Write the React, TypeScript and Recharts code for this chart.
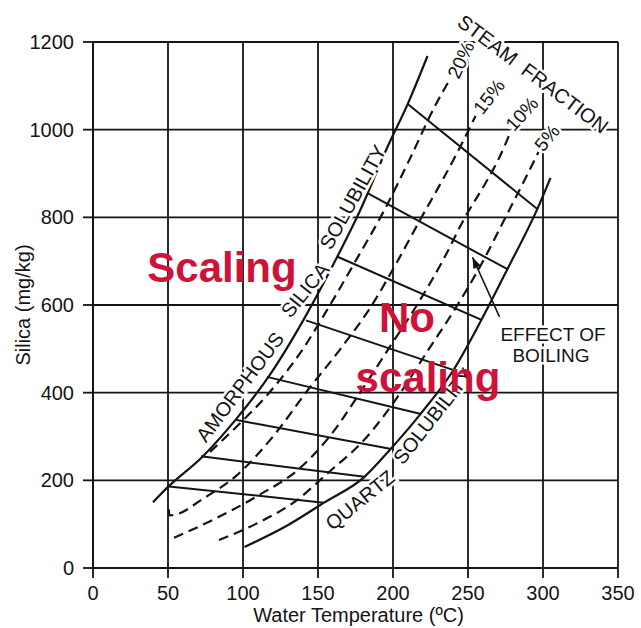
import { LineChart, Line, XAxis, YAxis, CartesianGrid, ReferenceDot } from "recharts";

// Silica solubility vs. water temperature: amorphous and quartz solubility,
// steam-fraction contours and the "effect of boiling" paths between them.
type Pt = [number, number]; // [°C, mg/kg]

const tempTicks = [0, 50, 100, 150, 200, 250, 300, 350];
const silicaTicks = [0, 200, 400, 600, 800, 1000, 1200];

const amorphous: Pt[] = [
  [40, 150], [50, 185], [73, 254], [95, 338], [118, 441], [141, 570],
  [163, 711], [178, 815], [196, 958], [210, 1060], [223, 1168],
];
const steam20: Pt[] = [
  [78, 265], [95, 320], [118, 402], [140, 500], [158, 600], [175, 700],
  [194, 815], [212, 939], [228, 1054], [238, 1115],
];
const steam15: Pt[] = [
  [50.5, 134], [51, 120], [57, 124], [72, 155], [96, 212], [120, 300],
  [143, 405], [165, 500], [186, 600], [203, 700], [219, 800], [233, 885],
  [245, 962], [255, 1031],
];
const steam10: Pt[] = [
  [54, 69], [80, 110], [110, 165], [138, 228], [160, 310], [178, 400],
  [197, 500], [216, 600], [233, 700], [248, 800], [262, 880], [270, 930],
  [279, 1000],
];
const steam5: Pt[] = [
  [84, 64], [110, 103], [136, 155], [156, 215], [181, 293], [203, 390],
  [224, 500], [243, 600], [260, 700], [275, 800], [288, 887], [297, 949],
];
const quartz: Pt[] = [
  [101, 48], [128, 94], [154, 149], [181, 208], [198, 270], [218, 350],
  [240, 450], [258, 560], [276, 680], [297, 825], [305, 890],
];

// boiling paths: from amorphous curve down to quartz curve
const boilingPaths: Pt[][] = [
  [[50.6, 186], [154, 149]],
  [[72, 255], [181, 208]],
  [[95, 338], [198, 272]],
  [[116, 436], [218, 352]],
  [[142, 565], [240, 452]],
  [[163, 710], [259, 566]],
  [[183, 855], [276.6, 681]],
  [[210, 1058], [296.6, 818]],
];
const boilingArrow: Pt[] = [[271, 573], [253, 709]];

const FONT = "'Liberation Sans', Arial, Helvetica, sans-serif";
const INK = "#141414";
const RED = "#cf1238";

// annotations placed in data units
const notes = [
  { text: "AMORPHOUS", t: 98, s: 413, angle: -53, size: 20 },
  { text: "SILICA", t: 141.3, s: 634, angle: -51, size: 20 },
  { text: "SOLUBILITY", t: 173.3, s: 846, angle: -61, size: 20 },
  { text: "QUARTZ", t: 178, s: 155, angle: -39, size: 20 },
  { text: "SOLUBILITY", t: 226.7, s: 347, angle: -52, size: 20 },
  { text: "STEAM  FRACTION", t: 293.3, s: 1127, angle: 37, size: 20 },
  { text: "20%", t: 245.3, s: 1159, angle: -65, size: 19 },
  { text: "15%", t: 264, s: 1075, angle: -52, size: 19 },
  { text: "10%", t: 286, s: 1036, angle: -48, size: 19 },
  { text: "5%", t: 302.7, s: 981, angle: -50, size: 19 },
  { text: "EFFECT OF", t: 306.7, s: 533, angle: 0, size: 19 },
  { text: "BOILING", t: 305.3, s: 485, angle: 0, size: 19 },
];
const zoneNotes = [
  { text: "Scaling", t: 86, s: 685 },
  { text: "No", t: 209.3, s: 571 },
  { text: "scaling", t: 223.3, s: 434 },
];

const rows = (pts: Pt[]) => pts.map(([t, s]) => ({ t, s }));

function textAt(text: string, angle: number, size: number, bold: boolean, fill: string, halo: boolean) {
  return (p: any) => {
    const vb = p.viewBox || { x: 0, y: 0, width: 0, height: 0 };
    const x = vb.x + (vb.width || 0) / 2;
    const y = vb.y + (vb.height || 0) / 2;
    return (
      <text
        x={x}
        y={y}
        transform={angle ? `rotate(${angle} ${x} ${y})` : undefined}
        textAnchor="middle"
        dominantBaseline="central"
        fontFamily={FONT}
        fontSize={size}
        fontWeight={bold ? 700 : 400}
        fill={fill}
        stroke={halo ? "#fff" : "none"}
        strokeWidth={halo ? 5 : 0}
        paintOrder="stroke"
        style={{ whiteSpace: "pre" }}
      >
        {text}
      </text>
    );
  };
}

function ArrowHead(p: any) {
  if (p.index !== 1) return <g key={`ah-${p.index}`} />;
  let ang = Math.atan2(-60, -27);
  if (p.points && p.points.length > 1) {
    const a = p.points[0];
    const b = p.points[1];
    ang = Math.atan2(b.y - a.y, b.x - a.x);
  }
  const L = 11;
  const W = 4;
  const bx = p.cx - L * Math.cos(ang);
  const by = p.cy - L * Math.sin(ang);
  const pts = `${p.cx},${p.cy} ${bx - W * Math.sin(ang)},${by + W * Math.cos(ang)} ${bx + W * Math.sin(ang)},${by - W * Math.cos(ang)}`;
  return <polygon key={`ah-${p.index}`} points={pts} fill={INK} />;
}

const yTitle = (p: any) => {
  const vb = p.viewBox;
  const x = vb.x - 10;
  const y = vb.y + vb.height / 2;
  return (
    <text x={x} y={y} transform={`rotate(-90 ${x} ${y})`} textAnchor="middle" dominantBaseline="central"
      fontFamily={FONT} fontSize={20} fill={INK}>
      Silica (mg/kg)
    </text>
  );
};

const xTitle = (p: any) => {
  const vb = p.viewBox;
  return (
    <text x={vb.x + vb.width / 2 + 3} y={vb.y + 47} textAnchor="middle" dominantBaseline="central"
      fontFamily={FONT} fontSize={20} fill={INK}>
      Water Temperature (ºC)
    </text>
  );
};

export default function App() {
  const solid = { type: "monotone" as const, dataKey: "s", stroke: INK, strokeWidth: 2.2, dot: false, activeDot: false, isAnimationActive: false };
  const dashed = { ...solid, strokeDasharray: "10 6" };
  return (
    <div style={{ position: "absolute", left: 0, top: 0, width: 641, height: 628, background: "#fff" }}>
      <LineChart width={641} height={628} margin={{ top: 42, right: 23, left: 33, bottom: 12 }}>
        <CartesianGrid stroke={INK} strokeWidth={1.8} horizontalValues={silicaTicks} verticalValues={tempTicks} />
        <XAxis
          type="number"
          dataKey="t"
          domain={[0, 350]}
          ticks={tempTicks}
          interval={0}
          allowDataOverflow
          height={48}
          tickSize={10}
          tickMargin={8}
          stroke={INK}
          strokeWidth={1.8}
          tick={{ fill: INK, fontSize: 20, fontFamily: FONT }}
          label={{ content: xTitle }}
        />
        <YAxis
          type="number"
          domain={[0, 1200]}
          ticks={silicaTicks}
          interval={0}
          allowDataOverflow
          width={60}
          tickSize={10}
          tickMargin={9}
          stroke={INK}
          strokeWidth={1.8}
          tick={{ fill: INK, fontSize: 20, fontFamily: FONT }}
          label={{ content: yTitle }}
        />
        {notes.map((n, i) => (
          <ReferenceDot key={`n${i}`} x={n.t} y={n.s} r={0} fill="none" stroke="none" ifOverflow="visible"
            label={textAt(n.text, n.angle, n.size, false, INK, true)} />
        ))}
        {boilingPaths.map((seg, i) => (
          <Line key={`b${i}`} {...solid} type="linear" strokeWidth={2} data={rows(seg)} />
        ))}
        <Line {...solid} type="linear" strokeWidth={1.6} data={rows(boilingArrow)} dot={ArrowHead} />
        <Line {...solid} data={rows(amorphous)} />
        <Line {...dashed} data={rows(steam20)} />
        <Line {...dashed} data={rows(steam15)} />
        <Line {...dashed} data={rows(steam10)} />
        <Line {...dashed} data={rows(steam5)} />
        <Line {...solid} data={rows(quartz)} />
        {zoneNotes.map((n, i) => (
          <ReferenceDot key={`z${i}`} x={n.t} y={n.s} r={0} fill="none" stroke="none" ifOverflow="visible"
            label={textAt(n.text, 0, 42, true, RED, false)} />
        ))}
      </LineChart>
    </div>
  );
}
